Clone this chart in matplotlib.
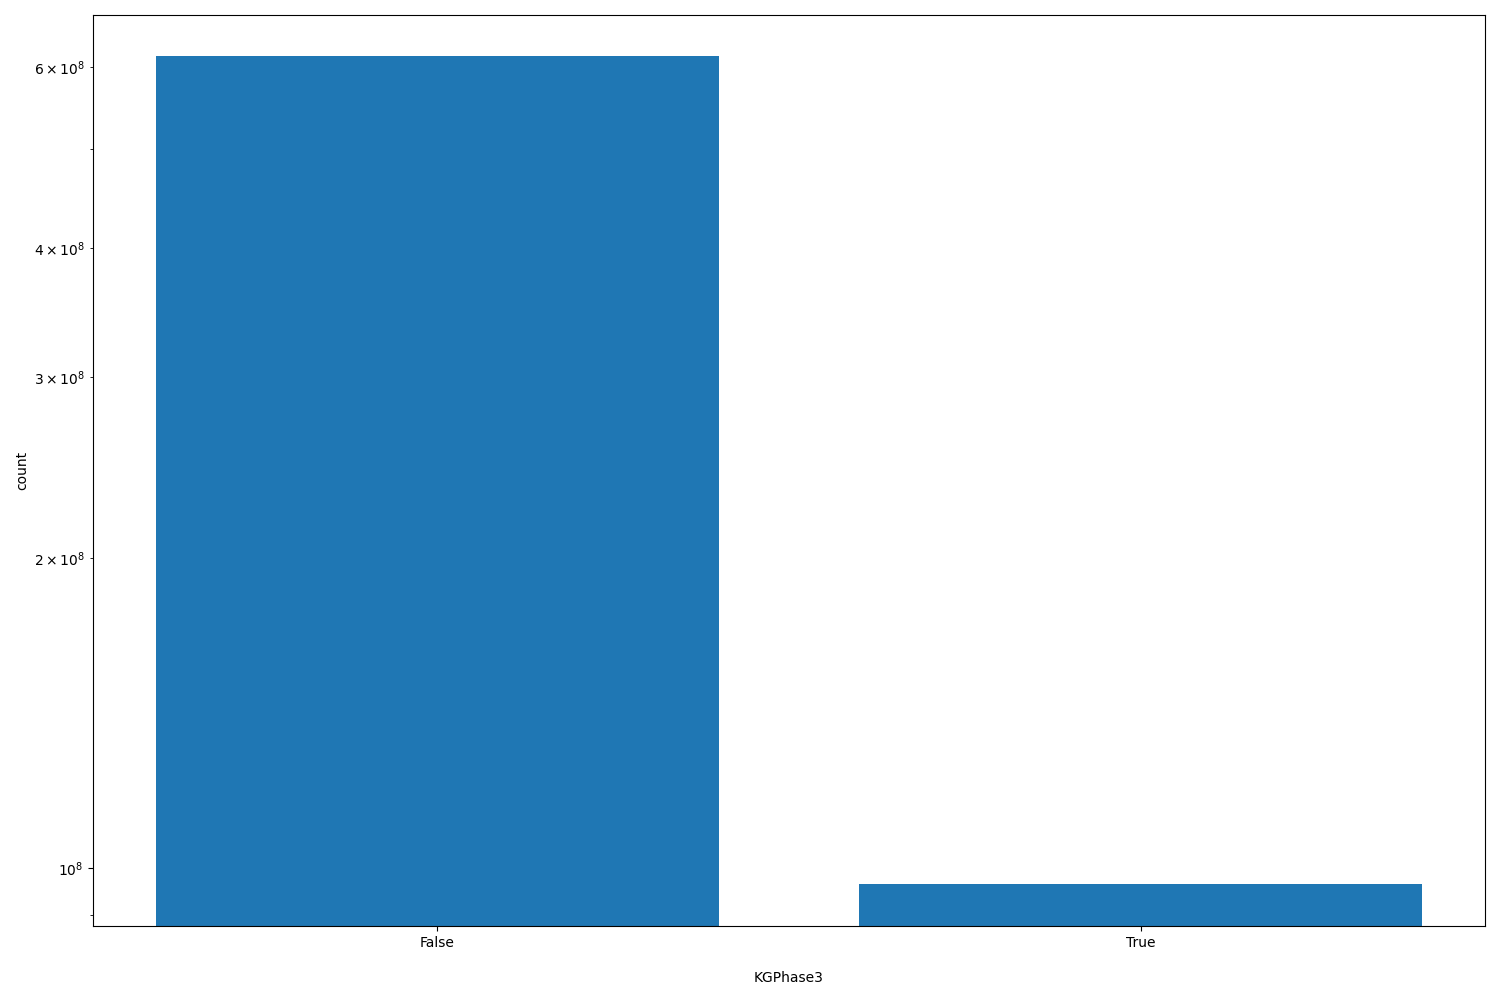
import matplotlib
matplotlib.use("Agg")
import matplotlib.pyplot as plt

categories = ["False", "True"]
counts = [6.15e8, 9.65e7]

fig = plt.figure(figsize=(15, 10), dpi=100)
ax = fig.add_axes([0.062, 0.074, 0.928, 0.911])
ax.bar(categories, counts, color="#1f77b4", width=0.8)
ax.set_yscale("log")
ax.set_ylim(8.79e7, 6.74e8)
ax.set_xlabel("KGPhase3", labelpad=15)
ax.set_ylabel("count")
fig.savefig("out.png", dpi=100)
